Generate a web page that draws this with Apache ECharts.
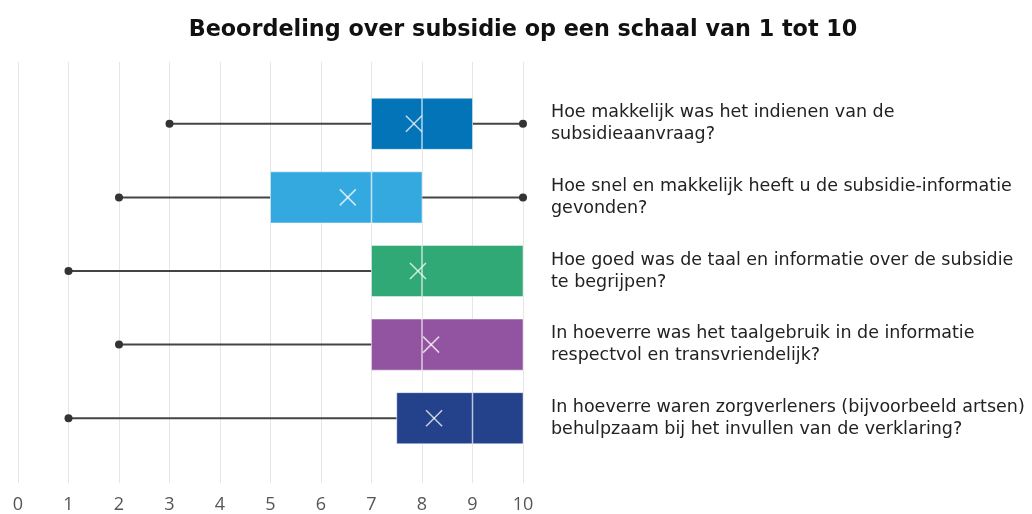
<!DOCTYPE html>
<html><head><meta charset="utf-8">
<script src="https://cdn.jsdelivr.net/npm/echarts@6/dist/echarts.min.js"></script>
<style>html,body{margin:0;padding:0;background:#fff}#c{width:1032px;height:514px}</style>
</head><body><div id="c"></div>
<script>
const categories = [
  "Hoe makkelijk was het indienen van de\nsubsidieaanvraag?",
  "Hoe snel en makkelijk heeft u de subsidie-informatie\ngevonden?",
  "Hoe goed was de taal en informatie over de subsidie\nte begrijpen?",
  "In hoeverre was het taalgebruik in de informatie\nrespectvol en transvriendelijk?",
  "In hoeverre waren zorgverleners (bijvoorbeeld artsen)\nbehulpzaam bij het invullen van de verklaring?"
];
const minVals    = [3, 2, 1, 2, 1];
const q1Vals     = [7, 5, 7, 7, 7.5];
const medianVals = [8, 7, 8, 8, 9];
const q3Vals     = [9, 8, 10, 10, 10];
const maxVals    = [10, 10, 10, 10, 10];
const meanVals   = [7.84, 6.53, 7.92, 8.18, 8.24];
const colors = ['#0474B9', '#34A9E0', '#31A977', '#9254A0', '#23428B'];
const xTicks = [0,1,2,3,4,5,6,7,8,9,10];

const FONT = 'Open Sans';
const LFONT = 'DejaVu Sans';
const data = categories.map((c, i) => [i, minVals[i], q1Vals[i], medianVals[i], q3Vals[i], maxVals[i], meanVals[i]]);

const chart = echarts.init(document.getElementById('c'), null, {renderer: 'canvas'});
chart.setOption({
  animation: false,
  title: {
    text: 'Beoordeling over subsidie op een schaal van 1 tot 10',
    left: 518, top: 14, textAlign: 'center',
    textStyle: {fontFamily: LFONT, fontWeight: 'bold', fontSize: 22.3, color: '#111'}
  },
  grid: [
    {left: 18, right: 509, top: 62, bottom: 31},
    {left: 18, right: 509, top: 87, bottom: 59}
  ],
  xAxis: [
    {gridIndex: 0, type: 'value', min: xTicks[0], max: xTicks[xTicks.length-1], interval: 1,
     axisLine: {show: false}, axisTick: {show: false},
     splitLine: {show: true, lineStyle: {color: '#e6e6e6', width: 1}},
     axisLabel: {fontFamily: FONT, fontSize: 18, color: '#555', margin: 13}},
    {gridIndex: 1, type: 'value', min: 0, max: 10, show: false}
  ],
  yAxis: [
    {gridIndex: 0, type: 'value', show: false},
    {gridIndex: 1, type: 'category', data: categories, inverse: true, position: 'right',
     axisLine: {show: false}, axisTick: {show: false}, splitLine: {show: false},
     axisLabel: {align: 'left', margin: 28, fontFamily: LFONT, fontSize: 17.5, color: '#222', lineHeight: 22}}
  ],
  series: [{
    type: 'custom',
    xAxisIndex: 1, yAxisIndex: 1,
    data: data,
    encode: {x: [1,2,3,4,5,6], y: 0},
    renderItem: function (params, api) {
      const idx = api.value(0);
      const cy = api.coord([0, idx])[1];
      const band = api.size([0, 1])[1];
      const h = band * 0.694;
      const X = v => api.coord([v, idx])[0];
      const mn = X(api.value(1)), q1 = X(api.value(2)), md = X(api.value(3)),
            q3 = X(api.value(4)), mx = X(api.value(5)), mean = X(api.value(6));
      const col = colors[params.dataIndex];
      const els = [];
      const wl = {stroke: '#444', lineWidth: 2};
      if (q1 - mn > 0.5) {
        els.push({type: 'line', shape: {x1: mn, y1: cy, x2: q1, y2: cy}, style: wl});
        els.push({type: 'circle', shape: {cx: mn, cy: cy, r: 4}, style: {fill: '#333'}});
      }
      if (mx - q3 > 0.5) {
        els.push({type: 'line', shape: {x1: q3, y1: cy, x2: mx, y2: cy}, style: wl});
        els.push({type: 'circle', shape: {cx: mx, cy: cy, r: 4}, style: {fill: '#333'}});
      }
      els.push({type: 'rect', shape: {x: q1, y: cy - h/2, width: q3 - q1, height: h},
                style: {fill: col, stroke: 'rgba(255,255,255,0.45)', lineWidth: 1}});
      els.push({type: 'line', shape: {x1: md, y1: cy - h/2, x2: md, y2: cy + h/2},
                style: {stroke: 'rgba(255,255,255,0.7)', lineWidth: 1.5}});
      const s = 8;
      const ms = {stroke: 'rgba(255,255,255,0.75)', lineWidth: 1.5};
      els.push({type: 'line', shape: {x1: mean - s, y1: cy - s, x2: mean + s, y2: cy + s}, style: ms});
      els.push({type: 'line', shape: {x1: mean - s, y1: cy + s, x2: mean + s, y2: cy - s}, style: ms});
      return {type: 'group', children: els};
    }
  }]
});
</script></body></html>
